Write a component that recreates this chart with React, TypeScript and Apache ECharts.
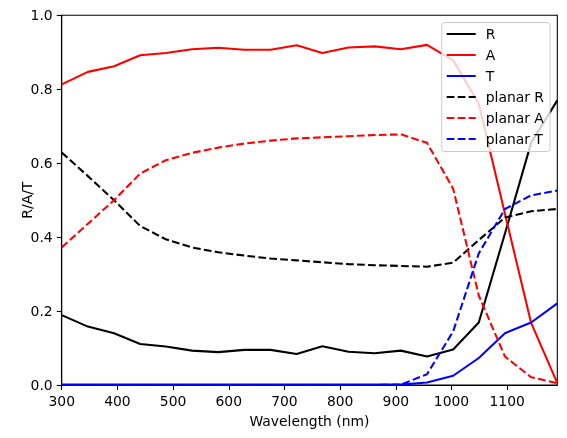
import React, { useEffect, useRef } from "react";
import * as echarts from "echarts";

const wavelengths = [300, 347, 394, 441, 487, 534, 581, 628, 675, 722, 768, 815, 862, 909, 956, 1003, 1049, 1096, 1143, 1190];
const R = [0.189, 0.158, 0.140, 0.111, 0.104, 0.093, 0.089, 0.095, 0.095, 0.084, 0.105, 0.090, 0.086, 0.093, 0.077, 0.096, 0.169, 0.410, 0.655, 0.770];
const A = [0.813, 0.847, 0.862, 0.892, 0.898, 0.908, 0.912, 0.907, 0.907, 0.919, 0.898, 0.913, 0.916, 0.908, 0.920, 0.878, 0.761, 0.463, 0.168, 0.005];
const T = [0.001, 0.001, 0.001, 0.001, 0.001, 0.001, 0.001, 0.001, 0.001, 0.001, 0.001, 0.001, 0.001, 0.001, 0.007, 0.025, 0.073, 0.140, 0.169, 0.221];
const planarR = [0.629, 0.565, 0.500, 0.430, 0.394, 0.372, 0.359, 0.350, 0.342, 0.337, 0.332, 0.327, 0.324, 0.322, 0.320, 0.331, 0.392, 0.453, 0.470, 0.476];
const planarA = [0.372, 0.436, 0.500, 0.572, 0.608, 0.628, 0.642, 0.653, 0.661, 0.667, 0.670, 0.673, 0.676, 0.678, 0.655, 0.531, 0.242, 0.077, 0.021, 0.005];
const planarT = [0, 0, 0, 0, 0, 0, 0, 0, 0, 0, 0, 0, 0, 0.001, 0.029, 0.145, 0.356, 0.476, 0.513, 0.526];

const xTicks = [300, 400, 500, 600, 700, 800, 900, 1000, 1100];
const yTicks = [0, 0.2, 0.4, 0.6, 0.8, 1.0];

const seriesDefs = [
  { name: "R", data: R, color: "#000000", dashed: false },
  { name: "A", data: A, color: "#ff0000", dashed: false },
  { name: "T", data: T, color: "#0000ff", dashed: false },
  { name: "planar R", data: planarR, color: "#000000", dashed: true },
  { name: "planar A", data: planarA, color: "#ff0000", dashed: true },
  { name: "planar T", data: planarT, color: "#0000ff", dashed: true },
];

const FONT = "DejaVu Sans";
const FS = 13.9;

export default function App() {
  const ref = useRef<HTMLDivElement>(null);
  useEffect(() => {
    if (!ref.current) return;
    const chart = echarts.init(ref.current, undefined, { renderer: "svg" });
    chart.setOption({
      animation: false,
      textStyle: { fontFamily: FONT },
      grid: {
        left: 61.7,
        right: 9.7,
        top: 15.3,
        bottom: 53,
        show: true,
        borderColor: "#000",
        borderWidth: 1.1,
        backgroundColor: "transparent",
        containLabel: false,
        outerBoundsMode: "none",
      },
      legend: {
        orient: "vertical",
        right: 17,
        top: 22.5,
        padding: [4.5, 6, 5.5, 4],
        itemWidth: 29,
        itemHeight: 14,
        itemGap: 7,
        backgroundColor: "rgba(255,255,255,0.8)",
        borderColor: "#cccccc",
        borderWidth: 1,
        borderRadius: 3,
        align: "left",
        itemStyle: { opacity: 0, borderWidth: 0 },
        textStyle: { fontFamily: FONT, fontSize: FS, color: "#000", padding: [0, 0, 0, 5] },
        data: seriesDefs.map((s) => s.name),
      },
      xAxis: {
        type: "value",
        min: wavelengths[0],
        max: wavelengths[wavelengths.length - 1],
        name: "Wavelength (nm)",
        nameLocation: "middle",
        nameGap: 29,
        nameMoveOverlap: false,
        nameTextStyle: { fontFamily: FONT, fontSize: FS, color: "#000" },
        splitLine: { show: false },
        axisLine: { lineStyle: { color: "#000", width: 1.1 } },
        axisTick: { show: true, length: 4.9, lineStyle: { color: "#000", width: 1.1 }, customValues: xTicks },
        axisLabel: {
          fontFamily: FONT,
          fontSize: FS,
          color: "#000",
          margin: 9,
          customValues: xTicks,
          formatter: (v: number) => String(v),
        },
      },
      yAxis: {
        type: "value",
        min: 0,
        max: 1,
        interval: 0.2,
        name: "R/A/T",
        nameLocation: "middle",
        nameGap: 28,
        nameMoveOverlap: false,
        nameTextStyle: { fontFamily: FONT, fontSize: FS, color: "#000" },
        splitLine: { show: false },
        axisLine: { show: true, lineStyle: { color: "#000", width: 1.1 } },
        axisTick: { show: true, length: 4.9, lineStyle: { color: "#000", width: 1.1 }, customValues: yTicks },
        axisLabel: {
          fontFamily: FONT,
          fontSize: FS,
          color: "#000",
          margin: 9,
          customValues: yTicks,
          formatter: (v: number) => v.toFixed(1),
        },
      },
      series: seriesDefs.map((s) => ({
        name: s.name,
        type: "line",
        symbol: "none",
        showSymbol: false,
        clip: true,
        data: wavelengths.map((x, i) => [x, s.data[i]]),
        itemStyle: { color: s.color },
        lineStyle: { color: s.color, width: 2.08, type: s.dashed ? [7.7, 3.3] : "solid" },
      })),
    });
    return () => chart.dispose();
  }, []);
  return <div ref={ref} style={{ position: "fixed", left: 0, top: 0, width: 567, height: 438 }} />;
}
